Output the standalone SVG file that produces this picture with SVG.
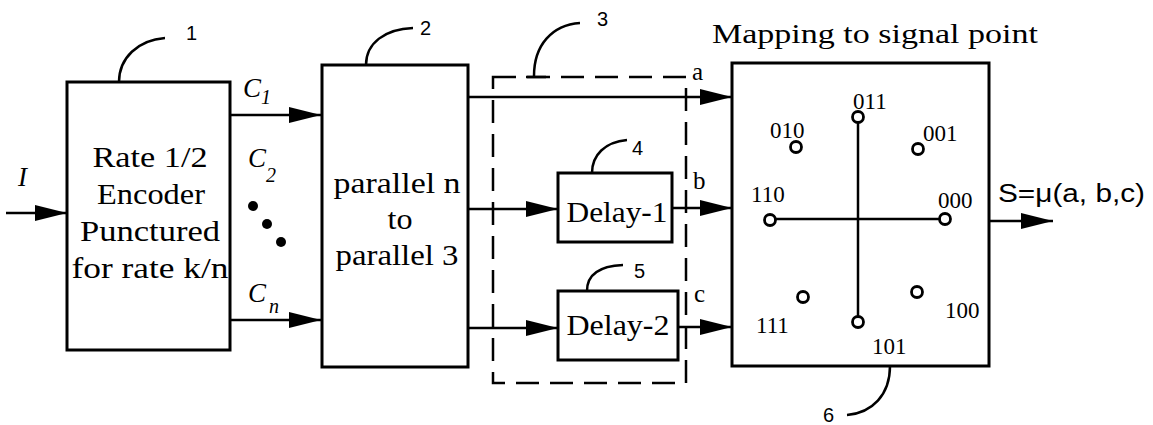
<svg xmlns="http://www.w3.org/2000/svg" width="1153" height="425" viewBox="0 0 1153 425">
<style>
.box{fill:#fff;stroke:#000;stroke-width:3}
.ln{fill:none;stroke:#000;stroke-width:2.5}
.lead{fill:none;stroke:#000;stroke-width:2.5}
.dash{fill:none;stroke:#000;stroke-width:2.5;stroke-dasharray:23 11}
.pt{fill:#fff;stroke:#000;stroke-width:2.8}
.lbl{font-family:'Liberation Serif',serif;font-size:30px;text-anchor:middle;fill:#000}
.it{font-family:'Liberation Serif',serif;font-style:italic;font-size:27px;fill:#000}
.sub{font-family:'Liberation Serif',serif;font-style:italic;font-size:20px;fill:#000}
.num{font-family:'Liberation Sans',sans-serif;font-size:20px;fill:#000}
.bit{font-family:'Liberation Serif',serif;font-size:23px;fill:#000}
</style>
<defs>
<marker id="ah" viewBox="0 0 32 16" refX="32" refY="8" markerWidth="32" markerHeight="16" markerUnits="userSpaceOnUse" orient="auto">
<path d="M0,0 L32,8 L0,16 Z" fill="#000"/>
</marker>
</defs>

<g id="connectors">
<line class="ln" x1="6" y1="213" x2="67" y2="213" marker-end="url(#ah)"/>
<line class="ln" x1="230" y1="115" x2="321" y2="115" marker-end="url(#ah)"/>
<line class="ln" x1="230" y1="320" x2="321" y2="320" marker-end="url(#ah)"/>
<line class="ln" x1="468" y1="97" x2="732" y2="97" marker-end="url(#ah)"/>
<line class="ln" x1="468" y1="209" x2="558" y2="209" marker-end="url(#ah)"/>
<line class="ln" x1="468" y1="328" x2="558" y2="328" marker-end="url(#ah)"/>
<line class="ln" x1="672" y1="208" x2="732" y2="208" marker-end="url(#ah)"/>
<line class="ln" x1="678" y1="327" x2="732" y2="327" marker-end="url(#ah)"/>
<line class="ln" x1="989" y1="221" x2="1053" y2="221" marker-end="url(#ah)"/>
<text class="it" x="18" y="186">I</text>
<text class="it" x="243" y="97">C</text><text class="sub" x="261" y="104">1</text>
<text class="it" x="248" y="167">C</text><text class="sub" x="266" y="182">2</text>
<circle cx="253" cy="206" r="5" fill="#000"/>
<circle cx="267" cy="224" r="5" fill="#000"/>
<circle cx="281" cy="242" r="5" fill="#000"/>
<text class="it" x="248" y="302">C</text><text class="sub" x="269" y="313">n</text>
<text class="bit" x="692" y="80" style="font-size:25px">a</text>
<text class="bit" x="693" y="189" style="font-size:25px">b</text>
<text class="bit" x="694" y="302" style="font-size:25px">c</text>
<text x="998" y="202" style="font-family:'Liberation Sans',sans-serif;font-size:26px" textLength="147" lengthAdjust="spacingAndGlyphs">S=μ(a, b,c)</text>
</g>

<g id="node1">
<rect class="box" x="67" y="82" width="163" height="268"/>
<text class="lbl" x="150" y="167" textLength="115" lengthAdjust="spacingAndGlyphs">Rate 1/2</text>
<text class="lbl" x="151" y="204" textLength="108" lengthAdjust="spacingAndGlyphs">Encoder</text>
<text class="lbl" x="150" y="241" textLength="140" lengthAdjust="spacingAndGlyphs">Punctured</text>
<text class="lbl" x="150" y="278" textLength="157" lengthAdjust="spacingAndGlyphs">for rate k/n</text>
<path class="lead" d="M119,82 C119,58 138,40 165,38"/>
<text class="num" x="186" y="40">1</text>
</g>

<g id="node2">
<rect class="box" x="322" y="65" width="146" height="302"/>
<text class="lbl" x="397" y="193" textLength="127" lengthAdjust="spacingAndGlyphs">parallel n</text>
<text class="lbl" x="400" y="229" textLength="25" lengthAdjust="spacingAndGlyphs">to</text>
<text class="lbl" x="397" y="265" textLength="123" lengthAdjust="spacingAndGlyphs">parallel 3</text>
<path class="lead" d="M366,65 C366,43 385,29 413,28"/>
<text class="num" x="420" y="35">2</text>
</g>

<g id="node3">
<rect class="dash" x="493" y="77" width="193" height="306"/>
<path class="lead" d="M534,76 C534,45 552,25 580,23"/>
<line class="ln" x1="526" y1="77" x2="546" y2="77"/>
<text class="num" x="597" y="26">3</text>
</g>

<g id="node4">
<rect class="box" x="558" y="173" width="114" height="69"/>
<text class="lbl" x="617" y="222" textLength="101" lengthAdjust="spacingAndGlyphs">Delay-1</text>
<path class="lead" d="M592,173 C592,155 605,142 627,140"/>
<text class="num" x="632" y="155">4</text>
</g>

<g id="node5">
<rect class="box" x="558" y="291" width="120" height="69"/>
<text class="lbl" x="618" y="335" textLength="103" lengthAdjust="spacingAndGlyphs">Delay-2</text>
<path class="lead" d="M587,291 C587,274 600,266 623,265"/>
<text class="num" x="634" y="278">5</text>
</g>

<g id="node6">
<text x="712" y="43" style="font-family:'Liberation Serif',serif;font-size:28px" textLength="326" lengthAdjust="spacingAndGlyphs">Mapping to signal point</text>
<rect class="box" x="732" y="63" width="257" height="303"/>
<line class="ln" x1="770" y1="219" x2="945" y2="219"/>
<line class="ln" x1="858" y1="117" x2="858" y2="322"/>
<circle class="pt" cx="770" cy="220" r="5.5"/>
<circle class="pt" cx="945" cy="219" r="5.5"/>
<circle class="pt" cx="858" cy="117" r="5.5"/>
<circle class="pt" cx="858" cy="322" r="5.5"/>
<circle class="pt" cx="796" cy="147" r="5.5"/>
<circle class="pt" cx="918" cy="149" r="5.5"/>
<circle class="pt" cx="803" cy="297" r="5.5"/>
<circle class="pt" cx="917" cy="292" r="5.5"/>
<text class="bit" x="853" y="109">011</text>
<text class="bit" x="770" y="138">010</text>
<text class="bit" x="923" y="141">001</text>
<text class="bit" x="751" y="202">110</text>
<text class="bit" x="938" y="208">000</text>
<text class="bit" x="756" y="333">111</text>
<text class="bit" x="945" y="318">100</text>
<text class="bit" x="872" y="354">101</text>
<path class="lead" d="M890,366 C890,395 872,413 847,415"/>
<text class="num" x="823" y="422">6</text>
</g>
</svg>
